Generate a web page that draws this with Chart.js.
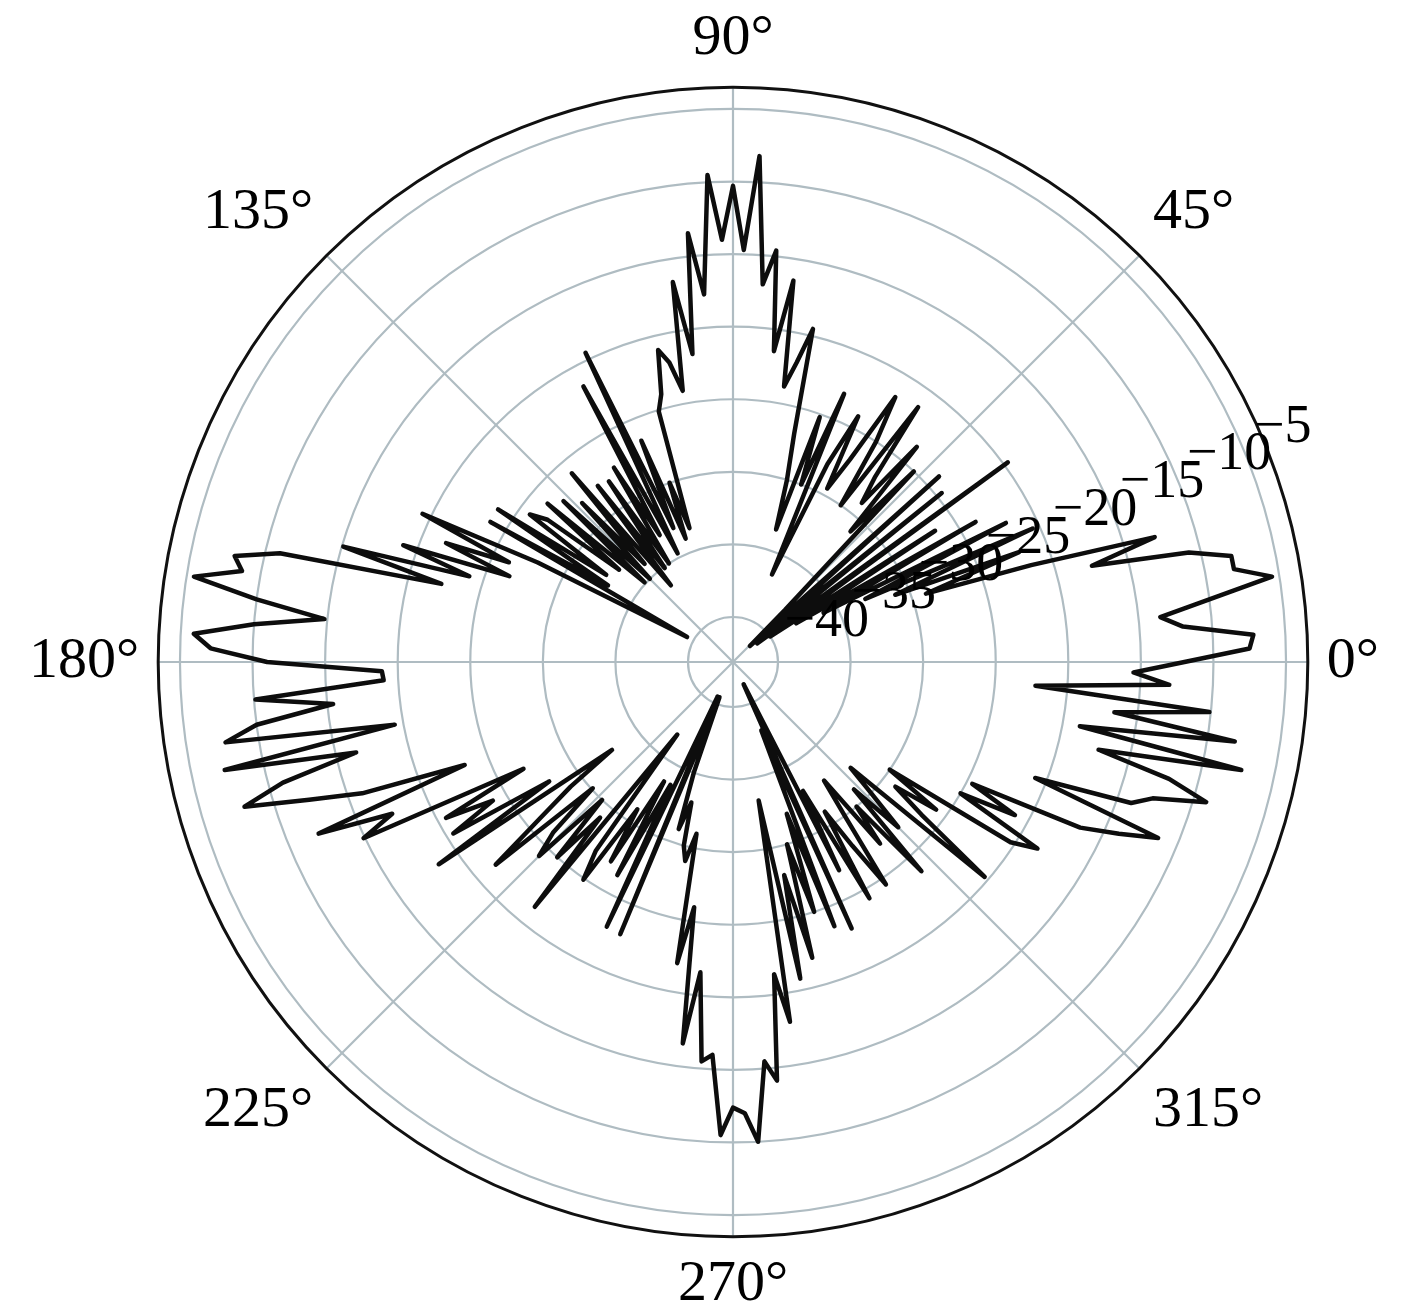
<!DOCTYPE html>
<html>
<head>
<meta charset="utf-8">
<script src="https://cdn.jsdelivr.net/npm/chart.js@4.4.1/dist/chart.umd.min.js"></script>
<style>
  html, body { margin: 0; padding: 0; background: #fff; }
  #wrap { width: 1417px; height: 1316px; }
</style>
</head>
<body>
<div id="wrap"><canvas id="patternChart"></canvas></div>
<script>
// samples every 1.5 deg, counter-clockwise from 0 deg
const STEP = 1.5;
const gainDb = [
  -12, -7.5, -7.2, -12, -13.5, -10, -5.5, -8, -8, -10.8, -17.5, -12.8,           // 0 - 16.5
  -21.5, -29, -22, -31, -20.5, -33, -22, -36, -23.8, -38, -26.5, -40,             // 18 - 34.5
  -19.7, -41, -24.6, -40, -24, -41.5, -38, -25, -31, -23.6, -29, -27,             // 36 - 52.5
  -21.4, -30, -25, -21.7, -27, -29.5, -24.1, -28, -36.5, -23.1, -30, -25.2,       // 54 - 70.5
  -33.5, -30, -26.8, -19.5, -22, -23.8, -16.5, -21.5, -14.6, -17, -8.2, -14.7,    // 72 - 88.5
  -10.3, -14, -9.5, -17.7, -13.4, -21.7, -16.6, -24.1, -22, -21, -24, -25.1,      // 90 - 106.5
  -33.4, -30, -34, -26.6, -33, -19.5, -34.7, -21.5, -33, -27.4, -35, -28,         // 108 - 124.5
  -35.1, -27.8, -36.3, -26, -34, -28, -35, -27, -34.9, -26.3, -33, -27,           // 126 - 142.5
  -25.8, -32.5, -23.8, -33, -23.8, -39.5, -28, -19.4, -26.2, -21.7, -26.6, -19,   // 144 - 160.5
  -24, -15.1, -22.3, -11, -8, -8.7, -5.5, -10, -14.8, -10, -5.9, -7.1,            // 162 - 178.5
  -11, -18.9, -19, -10.1, -15.4, -10, -7.7, -19.4, -7.3, -16.4, -11, -8,          // 180 - 196.5
  -12.4, -16, -23.3, -12.2, -17.4, -14.9, -26.9, -20.6, -24, -20.5, -28, -18.5,   // 198 - 214.5
  -32.8, -29, -26, -21.6, -30.1, -26, -24.2, -30, -25, -29, -21.4, -36.8,         // 216 - 232.5
  -27, -24.9, -31, -27, -33.6, -26.4, -33.6, -22.9, -40.5, -22.8, -40.5, -35,     // 234 - 250.5
  -31, -33, -30, -29, -31, -22, -26, -16.6, -21.6, -15.5, -16, -10.5,             // 252 - 268.5
  -12.4, -12, -10, -15.5, -14.1, -21.4, -18, -33.4, -20.8, -28, -22, -30,         // 270 - 286.5
  -25, -32, -23.6, -38, -23, -41.4, -27, -33, -24.3, -31, -28, -24.5,             // 288 - 304.5
  -30, -32.8, -27, -30, -23.7, -31, -27, -30, -32.2, -20.3, -26.4, -29,           // 306 - 322.5
  -25.8, -30, -20.3, -18.5, -25, -21, -24.6, -16.6, -14, -11.4, -20.8, -14,       // 324 - 340.5
  -12.7, -9.1, -12, -17.2, -7.3, -18.8, -8.1, -16.6, -10.1, -22.2, -13, -15.5     // 342 - 358.5
];
const angleTicks = [0, 45, 90, 135, 180, 225, 270, 315];
const ringTicks = [-40, -35, -30, -25, -20, -15, -10, -5];
const rMin = -43.1;
const rMax = -3.5;

const gridColor = '#afbcc2';

// radar goes clockwise, the plot goes counter-clockwise: reorder
const n = gainDb.length;
const order = gainDb.map((_, j) => (n - j) % n);
const labels = order.map(i => {
  const a = i * STEP;
  return angleTicks.includes(a) ? a + '°' : '';
});
const values = order.map(i => gainDb[i]);

// ring labels along 22.5 deg and the black outer circle
const ringLabels = {
  id: 'ringLabels',
  afterDraw(chart) {
    const s = chart.scales.r;
    const c = chart.ctx;
    c.save();
    c.beginPath();
    c.arc(s.xCenter, s.yCenter, s.getDistanceFromCenterForValue(rMax), 0, Math.PI * 2);
    c.strokeStyle = '#111';
    c.lineWidth = 3;
    c.stroke();
    c.font = '54px "Liberation Serif", serif';
    c.fillStyle = '#000';
    c.textAlign = 'left';
    c.textBaseline = 'middle';
    const a = 22.5 * Math.PI / 180;
    ringTicks.forEach(v => {
      const d = s.getDistanceFromCenterForValue(v);
      c.fillText('\u2212' + Math.abs(v), s.xCenter + d * Math.cos(a) + 10, s.yCenter - d * Math.sin(a) - 23);
    });
    c.restore();
  }
};

const ctx = document.getElementById('patternChart').getContext('2d');
const patternChart = new Chart(ctx, {
  type: 'radar',
  data: {
    labels: labels,
    datasets: [{
      data: values,
      borderColor: '#0d0d0d',
      borderWidth: 4.5,
      borderJoinStyle: 'round',
      fill: false,
      tension: 0,
      pointRadius: 0,
      pointHoverRadius: 0
    }]
  },
  options: {
    responsive: true,
    maintainAspectRatio: false,
    animation: false,
    layout: { padding: { top: 8, right: 9 } },
    plugins: {
      legend: { display: false },
      tooltip: { enabled: false }
    },
    scales: {
      r: {
        min: rMin,
        max: rMax,
        startAngle: 90,
        ticks: { display: false, stepSize: 5, includeBounds: false },
        grid: { circular: true, color: gridColor, lineWidth: 2.2 },
        angleLines: {
          color: gridColor,
          lineWidth: c => (labels[c.index] ? 2.2 : 0)
        },
        pointLabels: {
          color: '#000',
          padding: 19,
          font: { family: '"Liberation Serif", serif', size: 58, lineHeight: 1 }
        }
      }
    }
  },
  plugins: [ringLabels]
});
</script>
</body>
</html>
